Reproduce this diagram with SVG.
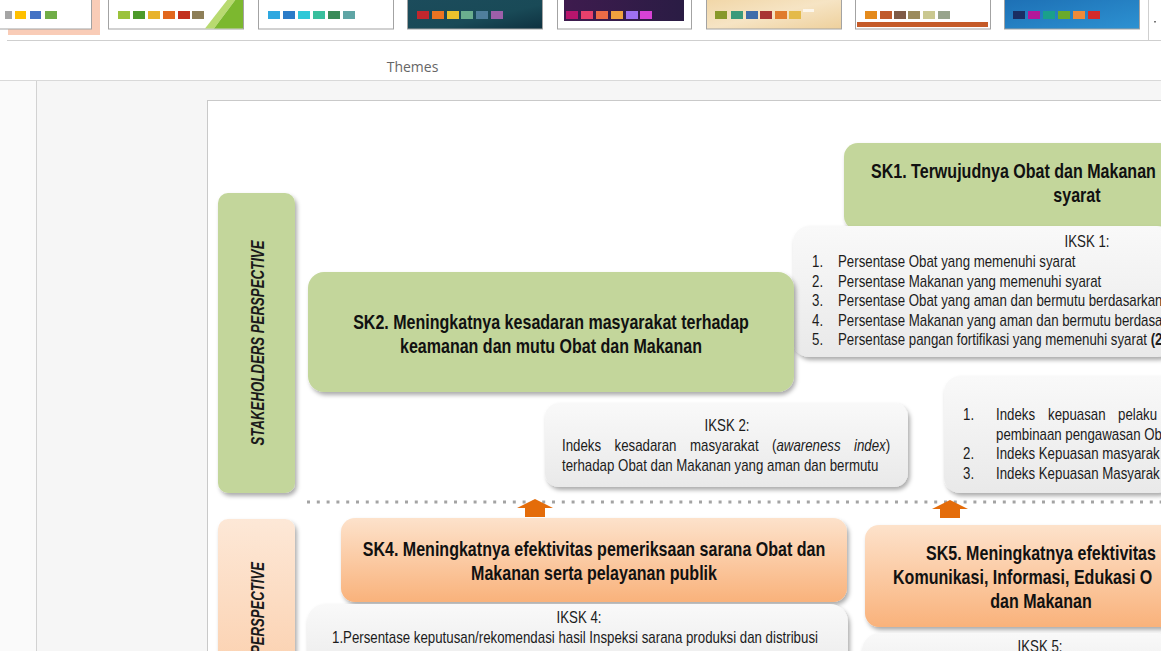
<svg xmlns="http://www.w3.org/2000/svg" width="1161" height="651" viewBox="0 0 1161 651">
<defs>
<style>
.t{font-family:"Liberation Sans",Arial,sans-serif}
.b{font-weight:bold;font-size:19.5px;fill:#111}
.r{font-size:16px;fill:#1c1c1c}
.m{text-anchor:middle}
.gbox{fill:url(#gGray);filter:url(#sh)}
.green{fill:#c3d69b;filter:url(#sh)}
.orange{fill:url(#gOrange);filter:url(#sh)}
.thumb{stroke:#a3a3a3;stroke-width:1}
.arrow{fill:#e46c0a}
</style>
<filter id="sh" x="-10%" y="-10%" width="130%" height="140%">
<feDropShadow dx="2" dy="3" stdDeviation="2.2" flood-color="#000" flood-opacity="0.33"/>
</filter>
<linearGradient id="gGray" x1="0" y1="0" x2="0" y2="1"><stop offset="0" stop-color="#f9f9f9"/><stop offset="1" stop-color="#e9e9e9"/></linearGradient>
<linearGradient id="gOrange" x1="0" y1="0" x2="0" y2="1"><stop offset="0" stop-color="#fde2cb"/><stop offset="1" stop-color="#f9b27b"/></linearGradient>
<linearGradient id="gPeach" x1="0" y1="0" x2="0" y2="1"><stop offset="0" stop-color="#fde8d7"/><stop offset="1" stop-color="#fbd0ae"/></linearGradient>
<linearGradient id="gTeal" x1="0" y1="0" x2="1" y2="1"><stop offset="0" stop-color="#1c4c5c"/><stop offset="0.6" stop-color="#194a57"/><stop offset="1" stop-color="#0e3140"/></linearGradient>
<linearGradient id="gPurple" x1="0" y1="0" x2="1" y2="0"><stop offset="0" stop-color="#3e1b4e"/><stop offset="1" stop-color="#2a1c44"/></linearGradient>
<linearGradient id="gBeige" x1="0" y1="0" x2="1" y2="1"><stop offset="0" stop-color="#f1d6a6"/><stop offset="0.5" stop-color="#f6e4c4"/><stop offset="1" stop-color="#eed09c"/></linearGradient>
<linearGradient id="gBlue" x1="0" y1="0" x2="1" y2="1"><stop offset="0" stop-color="#1d6fb4"/><stop offset="1" stop-color="#2d92d2"/></linearGradient>
</defs>

<g id="ribbon">
<rect x="0" y="0" width="1161" height="81" fill="#ffffff"/>
<rect x="8" y="-2" width="92" height="37" fill="#f9ccb7"/>
<rect x="-2" y="-2" width="93.5" height="31" fill="#fff" class="thumb"/>
<rect x="5" y="11" width="7" height="8" fill="#a5a5a5"/><rect x="15" y="11" width="11" height="8" fill="#ffc000"/><rect x="30" y="11" width="11" height="8" fill="#4472c4"/><rect x="45" y="11" width="12" height="8" fill="#70ad47"/>
<rect x="108.5" y="-2" width="135" height="31" fill="#fff" class="thumb"/>
<polygon points="205,28.5 228,-1 236,-1 214,28.5" fill="#b8da70"/><polygon points="214,28.5 236,-1 243,-1 243,28.5" fill="#7cb82f"/>
<rect x="118" y="11" width="12" height="8" fill="#9bc23c"/><rect x="133" y="11" width="12" height="8" fill="#4c9a2a"/><rect x="148" y="11" width="12" height="8" fill="#e8b32b"/><rect x="163" y="11" width="12" height="8" fill="#e2671e"/><rect x="178" y="11" width="12" height="8" fill="#c2301f"/><rect x="192" y="11" width="12" height="8" fill="#8e7f58"/>
<rect x="258.5" y="-2" width="135" height="31" fill="#fff" class="thumb"/>
<rect x="268" y="11" width="12" height="8" fill="#2ea8e0"/><rect x="283" y="11" width="12" height="8" fill="#2b7cc8"/><rect x="298" y="11" width="12" height="8" fill="#2ec8d8"/><rect x="313" y="11" width="12" height="8" fill="#39bf9d"/><rect x="328" y="11" width="12" height="8" fill="#3a8a58"/><rect x="343" y="11" width="12" height="8" fill="#5fa5a5"/>
<rect x="407.5" y="-2" width="135" height="31" fill="url(#gTeal)" class="thumb"/>
<rect x="417" y="11" width="12" height="8" fill="#c1272d"/><rect x="432" y="11" width="12" height="8" fill="#ec7422"/><rect x="447" y="11" width="12" height="8" fill="#e9c22c"/><rect x="461" y="11" width="12" height="8" fill="#6aae8e"/><rect x="476" y="11" width="12" height="8" fill="#4f7f9c"/><rect x="491" y="11" width="12" height="8" fill="#9d5fa9"/>
<rect x="557.5" y="-2" width="134" height="31" fill="#fff" class="thumb"/>
<rect x="564" y="-2" width="120" height="23" fill="url(#gPurple)"/>
<rect x="566" y="11" width="12" height="8" fill="#b8156d"/><rect x="581" y="11" width="12" height="8" fill="#e8406c"/><rect x="596" y="11" width="12" height="8" fill="#ec6c46"/><rect x="611" y="11" width="12" height="8" fill="#f0a23e"/><rect x="626" y="11" width="12" height="8" fill="#9e70f0"/><rect x="640" y="11" width="12" height="8" fill="#d842d6"/>
<rect x="706.5" y="-2" width="135" height="31" fill="url(#gBeige)" class="thumb"/>
<rect x="715" y="11" width="12" height="8" fill="#88982a"/><rect x="731" y="11" width="12" height="8" fill="#3a9a7a"/><rect x="746" y="11" width="12" height="8" fill="#3e6daa"/><rect x="760" y="11" width="12" height="8" fill="#a83434"/><rect x="775" y="11" width="12" height="8" fill="#e07b2c"/><rect x="789" y="11" width="12" height="8" fill="#e4ba4a"/>
<rect x="803" y="9" width="11" height="3" fill="#ffffff" opacity="0.7"/>
<rect x="855.5" y="-2" width="135" height="31" fill="#fff" class="thumb"/>
<rect x="865" y="11" width="12" height="8" fill="#e48a1c"/><rect x="880" y="11" width="12" height="8" fill="#c05a2c"/><rect x="894" y="11" width="12" height="8" fill="#7f5a46"/><rect x="908" y="11" width="12" height="8" fill="#9b8a5c"/><rect x="923" y="11" width="12" height="8" fill="#cac890"/><rect x="938" y="11" width="12" height="8" fill="#98a48c"/>
<rect x="857" y="22" width="131" height="5" fill="#c55a28"/>
<rect x="1004.5" y="-2" width="135" height="31" fill="url(#gBlue)" class="thumb"/>
<rect x="1013" y="11" width="12" height="8" fill="#1a2e63"/><rect x="1028" y="11" width="12" height="8" fill="#b3179a"/><rect x="1043" y="11" width="12" height="8" fill="#1aa08b"/><rect x="1058" y="11" width="12" height="8" fill="#6aaa2c"/><rect x="1073" y="11" width="12" height="8" fill="#ee8a3a"/><rect x="1088" y="11" width="12" height="8" fill="#d42b2b"/>
<line x1="1148.5" y1="0" x2="1148.5" y2="40" stroke="#cfcfcf"/>
<rect x="1154" y="21" width="2" height="1.5" fill="#777"/>
<line x1="7" y1="40.5" x2="1161" y2="40.5" stroke="#cfcfcf"/>
<text x="412.5" y="72" text-anchor="middle" font-family="'Open Sans','Noto Sans',sans-serif" font-size="14" fill="#666">Themes</text>
<line x1="0" y1="80.5" x2="1161" y2="80.5" stroke="#d9d9d9"/>
</g>

<g id="canvas">
<rect x="0" y="81" width="1161" height="570" fill="#f6f6f6"/>
<rect x="0" y="81" width="36" height="570" fill="#fafafa"/>
<line x1="36.5" y1="81" x2="36.5" y2="651" stroke="#d2d2d2"/>
<rect x="207.5" y="100.5" width="970" height="570" fill="#ffffff" stroke="#c9c9c9"/>
</g>

<g id="stakeholders-perspective">
<rect x="218" y="193" width="77" height="300" rx="10" class="green"/>
<text class="t" transform="translate(264 343) rotate(-90)" text-anchor="middle" font-size="18" font-weight="bold" font-style="italic" fill="#1a1a1a" textLength="205" lengthAdjust="spacingAndGlyphs">STAKEHOLDERS PERSPECTIVE</text>
</g>

<g id="internal-perspective">
<rect x="218" y="519" width="77" height="160" rx="10" fill="url(#gPeach)" filter="url(#sh)"/>
<text class="t" transform="translate(264 562) rotate(-90)" text-anchor="end" font-size="18" font-weight="bold" font-style="italic" fill="#1a1a1a" textLength="92" lengthAdjust="spacingAndGlyphs">PERSPECTIVE</text>
</g>

<g id="connectors">
<line x1="307" y1="502" x2="1161" y2="502" stroke="#a3a3a3" stroke-width="3" stroke-dasharray="3 6.8"/>
<polygon class="arrow" points="535,499 553,508 545,508 545,517 525,517 525,508 517,508"/>
<polygon class="arrow" points="950,500 968,509 960,509 960,518 940,518 940,509 932,509"/>
</g>

<g id="sk1">
<rect x="844" y="143" width="330" height="87" rx="14" class="green"/>
<text class="t b" transform="translate(871 178) scale(0.823 1)">SK1. Terwujudnya Obat dan Makanan</text>
<text class="t b m" transform="translate(1077 202) scale(0.823 1)">syarat</text>
</g>

<g id="iksk1">
<rect x="793" y="226" width="380" height="131" rx="16" class="gbox"/>
<text class="t r m" transform="translate(1087 247) scale(0.83 1)">IKSK 1:</text>
<text class="t r" transform="translate(812 267) scale(0.83 1)">1.</text>
<text class="t r" transform="translate(838 267) scale(0.83 1)">Persentase Obat yang memenuhi syarat</text>
<text class="t r" transform="translate(812 286.5) scale(0.83 1)">2.</text>
<text class="t r" transform="translate(838 286.5) scale(0.83 1)">Persentase Makanan yang memenuhi syarat</text>
<text class="t r" transform="translate(812 306) scale(0.83 1)">3.</text>
<text class="t r" transform="translate(838 306) scale(0.83 1)">Persentase Obat yang aman dan bermutu berdasarkan</text>
<text class="t r" transform="translate(812 325.5) scale(0.83 1)">4.</text>
<text class="t r" transform="translate(838 325.5) scale(0.83 1)">Persentase Makanan yang aman dan bermutu berdasa</text>
<text class="t r" transform="translate(812 345) scale(0.83 1)">5.</text>
<text class="t r" transform="translate(838 345) scale(0.83 1)">Persentase pangan fortifikasi yang memenuhi syarat <tspan font-weight="bold">(2</tspan></text>
</g>

<g id="sk2">
<rect x="308" y="272" width="486" height="120" rx="16" class="green"/>
<text class="t b m" transform="translate(551 329) scale(0.823 1)">SK2. Meningkatnya kesadaran masyarakat terhadap</text>
<text class="t b m" transform="translate(551 353) scale(0.823 1)">keamanan dan mutu Obat dan Makanan</text>
</g>

<g id="iksk2">
<rect x="545" y="403" width="363" height="84" rx="14" class="gbox"/>
<text class="t r m" transform="translate(727 431) scale(0.83 1)">IKSK 2:</text>
<text class="t r" transform="translate(562 451) scale(0.83 1)">Indeks</text>
<text class="t r" transform="translate(614.5 451) scale(0.83 1)">kesadaran</text>
<text class="t r" transform="translate(690 451) scale(0.83 1)">masyarakat</text>
<text class="t r" transform="translate(772 451) scale(0.83 1)">(<tspan font-style="italic">awareness</tspan></text>
<text class="t r" transform="translate(854 451) scale(0.83 1)"><tspan font-style="italic">index</tspan>)</text>
<text class="t r" transform="translate(562 471) scale(0.83 1)">terhadap Obat dan Makanan yang aman dan bermutu</text>
</g>

<g id="iksk3">
<rect x="944" y="376" width="230" height="117" rx="16" class="gbox"/>
<text class="t r" transform="translate(963 420) scale(0.83 1)">1.</text>
<text class="t r" transform="translate(996 420) scale(0.83 1)">Indeks</text>
<text class="t r" transform="translate(1048 420) scale(0.83 1)">kepuasan</text>
<text class="t r" transform="translate(1118 420) scale(0.83 1)">pelaku</text>
<text class="t r" transform="translate(996 440) scale(0.83 1)">pembinaan pengawasan Ob</text>
<text class="t r" transform="translate(963 459) scale(0.83 1)">2.</text>
<text class="t r" transform="translate(996 459) scale(0.83 1)">Indeks Kepuasan masyarak</text>
<text class="t r" transform="translate(963 479) scale(0.83 1)">3.</text>
<text class="t r" transform="translate(996 479) scale(0.83 1)">Indeks Kepuasan Masyarak</text>
</g>

<g id="sk4">
<rect x="341" y="518" width="506" height="84" rx="14" class="orange"/>
<text class="t b m" transform="translate(594 556) scale(0.823 1)">SK4. Meningkatnya efektivitas pemeriksaan sarana Obat dan</text>
<text class="t b m" transform="translate(594 580) scale(0.823 1)">Makanan serta pelayanan publik</text>
</g>

<g id="iksk4">
<rect x="307" y="604" width="541" height="80" rx="18" class="gbox"/>
<text class="t r m" transform="translate(579 623) scale(0.83 1)">IKSK 4:</text>
<text class="t r" transform="translate(332 643) scale(0.83 1)">1.Persentase keputusan/rekomendasi hasil Inspeksi sarana produksi dan distribusi</text>
</g>

<g id="sk5">
<rect x="865" y="525" width="310" height="102" rx="14" class="orange"/>
<text class="t b" transform="translate(926 560) scale(0.823 1)">SK5. Meningkatnya efektivitas</text>
<text class="t b" transform="translate(893 584) scale(0.823 1)">Komunikasi, Informasi, Edukasi O</text>
<text class="t b m" transform="translate(1041 608) scale(0.823 1)">dan Makanan</text>
</g>

<g id="iksk5">
<rect x="862" y="633" width="310" height="60" rx="18" class="gbox"/>
<text class="t r m" transform="translate(1040 652) scale(0.83 1)">IKSK 5:</text>
</g>
</svg>
